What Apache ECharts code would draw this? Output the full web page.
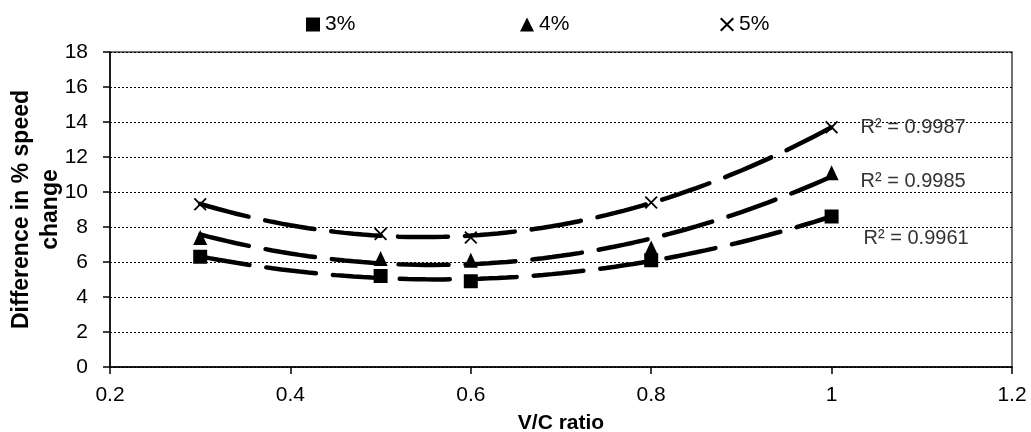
<!DOCTYPE html>
<html><head><meta charset="utf-8">
<script src="https://cdn.jsdelivr.net/npm/echarts@6/dist/echarts.min.js"></script>
<style>html,body{margin:0;padding:0;background:#fff}#c{width:1031px;height:432px}</style>
</head><body><div id="c"></div>
<script>
const vcRatio = [0.3, 0.5, 0.6, 0.8, 1.0];
const s3 = [6.3, 5.2, 4.9, 6.1, 8.6];
const s4 = [7.4, 6.2, 6.1, 6.8, 11.1];
const s5 = [9.3, 7.6, 7.4, 9.4, 13.7];
const seriesNames = ['3%', '4%', '5%'];
const r2Labels = ['R² = 0.9961', 'R² = 0.9985', 'R² = 0.9987'];
const xTickLabels = ['0.2', '0.4', '0.6', '0.8', '1', '1.2'];
const yTickLabels = ['0','2','4','6','8','10','12','14','16','18'];

// least-squares quadratic fit (Excel polynomial trendline, order 2)
function quadFit(xs, ys) {
  let n = xs.length, Sx=0,Sx2=0,Sx3=0,Sx4=0,Sy=0,Sxy=0,Sx2y=0;
  for (let i=0;i<n;i++){const x=xs[i],y=ys[i];Sx+=x;Sx2+=x*x;Sx3+=x*x*x;Sx4+=x*x*x*x;Sy+=y;Sxy+=x*y;Sx2y+=x*x*y;}
  const A=[[n,Sx,Sx2,Sy],[Sx,Sx2,Sx3,Sxy],[Sx2,Sx3,Sx4,Sx2y]];
  for (let i=0;i<3;i++){for(let k=i+1;k<3;k++){const f=A[k][i]/A[i][i];for(let j=i;j<4;j++)A[k][j]-=f*A[i][j];}}
  const c=[0,0,0];
  for (let i=2;i>=0;i--){let s=A[i][3];for(let j=i+1;j<3;j++)s-=A[i][j]*c[j];c[i]=s/A[i][i];}
  return x=>c[0]+c[1]*x+c[2]*x*x;
}
function trend(ys){
  const f = quadFit(vcRatio, ys);
  const x0 = vcRatio[0], x1 = vcRatio[vcRatio.length-1];
  const pts = [];
  const N = 70;
  for (let i=0;i<=N;i++){const x=x0+(x1-x0)*i/N; pts.push([x,f(x)]);}
  return pts;
}
const toPts = ys => vcRatio.map((x,i)=>[x,ys[i]]);
const crossPath = 'path://M1,0 L5,4 L9,0 L10,1 L6,5 L10,9 L9,10 L5,6 L1,10 L0,9 L4,5 L0,1 Z';
const trendStyle = {color:'#000', width:4.5, type:[50,17], cap:'round'};
const r2Font = {fontFamily:'Liberation Sans, Arial', fontSize:20, color:'#333'};
function trendSeries(name, ys, label, off){
  return {name:name, type:'line', data:trend(ys), showSymbol:false, symbol:'none', lineStyle:trendStyle, z:2, silent:true,
    endLabel:Object.assign({show:true, formatter:label, distance:0, offset:off}, r2Font)};
}

const chart = echarts.init(document.getElementById('c'));
const legendText = {fontFamily:'Liberation Sans, Arial', fontSize:21, color:'#000'};
chart.setOption({
  animation:false,
  grid:{left:110, right:19, top:52, bottom:65, show:true, borderColor:'#444', borderWidth:1.5, outerBoundsMode:'none', containLabel:false},
  legend:[
    {data:[{name:'3%', icon:'rect'}], left:301, top:9, itemWidth:14, itemHeight:14, itemGap:4, textStyle:legendText},
    {data:[{name:'4%', icon:'triangle'}], left:515, top:9, itemWidth:14, itemHeight:14, textStyle:legendText},
    {data:[{name:'5%', icon:crossPath}], left:715, top:9, itemWidth:14, itemHeight:14, textStyle:legendText}
  ],
  xAxis:{type:'value', min:0.2, max:1.2, interval:0.2,
    name:'V/C ratio', nameLocation:'middle', nameGap:46,
    nameTextStyle:{fontFamily:'Liberation Sans, Arial', fontSize:21, fontWeight:'bold', color:'#000'},
    axisLine:{lineStyle:{color:'#000', width:1.5}}, axisTick:{show:true, length:7, lineStyle:{color:'#000', width:1.5}},
    axisLabel:{fontFamily:'Liberation Sans, Arial', fontSize:21, color:'#000', margin:18,
      formatter:(v)=>xTickLabels[Math.round((v-0.2)/0.2)]},
    splitLine:{show:false}},
  yAxis:{type:'value', min:0, max:18, interval:2,
    name:'Difference in % speed\nchange', nameLocation:'middle', nameGap:45, nameMoveOverlap:false,
    nameTextStyle:{fontFamily:'Liberation Sans, Arial', fontSize:23, fontWeight:'bold', color:'#000', lineHeight:29},
    axisLine:{show:true, lineStyle:{color:'#000', width:1.5}}, axisTick:{show:true, length:7, lineStyle:{color:'#000', width:1.5}},
    axisLabel:{fontFamily:'Liberation Sans, Arial', fontSize:21, color:'#000', margin:22,
      formatter:(v)=>yTickLabels[Math.round(v/2)]},
    splitLine:{show:true, lineStyle:{color:'#000', width:1, type:[2,2]}}},
  series:[
    trendSeries('3% fit', s3, r2Labels[0], [32,22]),
    trendSeries('4% fit', s4, r2Labels[1], [29,5]),
    trendSeries('5% fit', s5, r2Labels[2], [29,0]),
    {name:'3%', type:'scatter', data:toPts(s3), symbol:'rect', symbolSize:14, itemStyle:{color:'#000', opacity:1}, z:3},
    {name:'4%', type:'scatter', data:toPts(s4), symbol:'triangle', symbolSize:[14,15], itemStyle:{color:'#000', opacity:1}, z:3},
    {name:'5%', type:'scatter', data:toPts(s5), symbol:crossPath, symbolSize:13, itemStyle:{color:'#000', opacity:1}, z:3}
  ]
});
</script></body></html>
